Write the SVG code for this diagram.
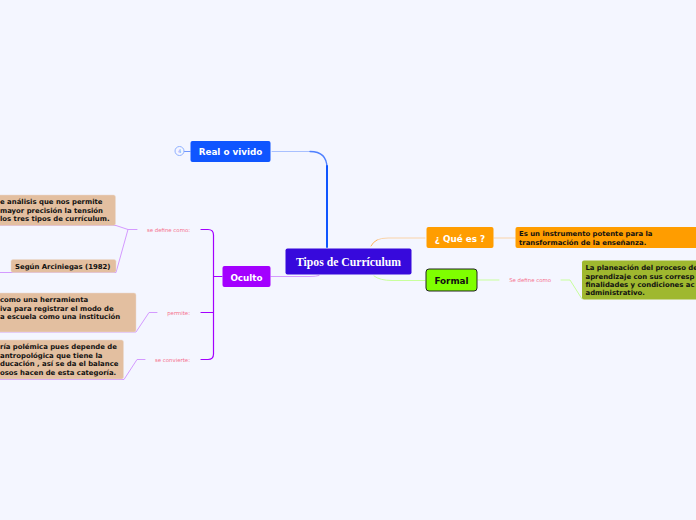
<svg xmlns="http://www.w3.org/2000/svg" width="696" height="520" viewBox="0 0 696 520">
<style>
text{font-family:"DejaVu Sans",sans-serif;font-weight:700}
.t{font-size:6.9px;fill:#111}
.m{font-size:8.8px;fill:#fff;text-anchor:middle}
.l{font-size:5.4px;font-weight:400;fill:#f5708c;text-anchor:end}
.c{fill:none;stroke-linecap:round;stroke-linejoin:round}
.p{stroke:#d49aff;stroke-width:1}
.v{stroke:#a300ff;stroke-width:1.2}
.tan{fill:#e3bfa0;stroke:#eadbd0;stroke-width:.5}
</style>
<rect width="696" height="520" fill="#f4f6ff"/>
<g id="connectors">
<path class="c" d="M272 151.500H310" stroke="#a8c0ff" stroke-width="1"/>
<path class="c" d="M310 151.500Q327 151.500 327 168" stroke="#4f80ff" stroke-width="1.300"/>
<path class="c" d="M327 166V247" stroke="#0f55ff" stroke-width="2"/>
<path class="c" d="M271 276.500H310Q316 276.500 319 275.500" stroke="#d49aff" stroke-width="1"/>
<path class="c" d="M377 240Q381 238 388 238H425" stroke="#fad3a8" stroke-width="1"/>
<path class="c" d="M371 246Q373 242 377 240" stroke="#ffb45c" stroke-width="1"/>
<path class="c" d="M374 276Q380 280.500 392 280.500H425" stroke="#c8ff9c" stroke-width="1"/>
<path class="c" d="M494 238H515" stroke="#fad3a8" stroke-width="1"/>
<path class="c" d="M478 280H499M561 280H570L582 299" stroke="#c8ff9c" stroke-width="1"/>
<path class="c" d="M184 151.500H190" stroke="#6f97ff" stroke-width="1"/>
<path class="c v" d="M201 229.500H208Q213.500 229.500 213.500 235V354Q213.500 359.500 208 359.500H201M201 312.500H213M213.500 276.500H222"/>
<path class="c p" d="M0 225.500H116L128 229.500H137M0 272.500H116L128 229.500"/>
<path class="c p" d="M0 332H136L149 312.500H157"/>
<path class="c p" d="M0 379.500H124L137 359.500H145"/>
</g>
<g id="real-o-vivido"><rect x="190.500" y="141" width="80" height="21" rx="2" fill="#0f55ff"/><text class="m" x="230.500" y="155">Real o vivido</text>
<circle cx="179.500" cy="151" r="4.500" fill="#f4f6ff" stroke="#8fb0ff"/><text x="179.500" y="153" font-size="5" style="font-weight:400;fill:#6f97ff;text-anchor:middle">4</text></g>
<g id="central"><rect x="285.500" y="248.500" width="126" height="26" rx="2" fill="#3709dc"/><text x="348.500" y="265.500" font-size="11.700" fill="#fff" text-anchor="middle" style="font-family:'Liberation Serif',serif">Tipos de Currículum</text></g>
<g id="oculto"><rect x="222.500" y="266" width="48" height="21" rx="2" fill="#a300ff"/><text class="m" x="246.500" y="280.500">Oculto</text></g>
<g id="que-es"><rect x="426.500" y="227" width="67" height="21" rx="2" fill="#ff9d00"/><text class="m" x="460" y="241.500">¿ Qué es ?</text></g>
<g id="formal"><rect x="426" y="269" width="51" height="22" rx="3" fill="#7fff00" stroke="#222"/><text class="m" x="451.500" y="283.500" style="fill:#111">Formal</text></g>
<g id="que-es-def"><rect x="515.500" y="227" width="190" height="21" rx="2" fill="#ff9d00"/><text class="t" x="519" y="236">Es un instrumento potente para la</text><text class="t" x="519" y="245">transformación de la enseñanza.</text></g>
<g id="formal-def"><rect x="582" y="260.500" width="130" height="39" rx="2" fill="#9fb82f"/><text class="t" x="585.500" y="270" letter-spacing="-.03">La planeación del proceso de</text><text class="t" x="585.500" y="278.500">aprendizaje con sus corresp</text><text class="t" x="585.500" y="287">finalidades y condiciones ac</text><text class="t" x="585.500" y="295">administrativo.</text></g>
<g id="label-se-define-como-f"><text class="l" x="551" y="282">Se define como</text></g>
<g id="label-se-define-como"><text class="l" x="190" y="232">se define como:</text></g>
<g id="label-permite"><text class="l" x="190" y="315">permite:</text></g>
<g id="label-se-convierte"><text class="l" x="190" y="362">se convierte:</text></g>
<g id="n1"><rect x="-40" y="195" width="155.500" height="30.500" rx="2" class="tan"/><text class="t" x="0" y="204">e análisis que nos permite</text><text class="t" x="0" y="212.700">mayor precisión la tensión</text><text class="t" x="0" y="221">los tres tipos de currículum.</text></g>
<g id="n2"><rect x="11" y="259.500" width="105" height="13" rx="2" class="tan"/><text class="t" x="15" y="268.500">Según Arciniegas (1982)</text></g>
<g id="n3"><rect x="-40" y="293" width="176" height="39" rx="2" class="tan"/><text class="t" x="0" y="302">como una herramienta</text><text class="t" x="0" y="311">iva para registrar el modo de</text><text class="t" x="0" y="319">a escuela como una institución</text></g>
<g id="n4"><rect x="-40" y="340" width="163.500" height="39" rx="2" class="tan"/><text class="t" x="0" y="349">ría polémica pues depende de</text><text class="t" x="0" y="357.700">antropológica que tiene la</text><text class="t" x="0" y="366">ducación , así se da el balance</text><text class="t" x="0" y="374.500">osos hacen de esta categoría.</text></g>
</svg>
